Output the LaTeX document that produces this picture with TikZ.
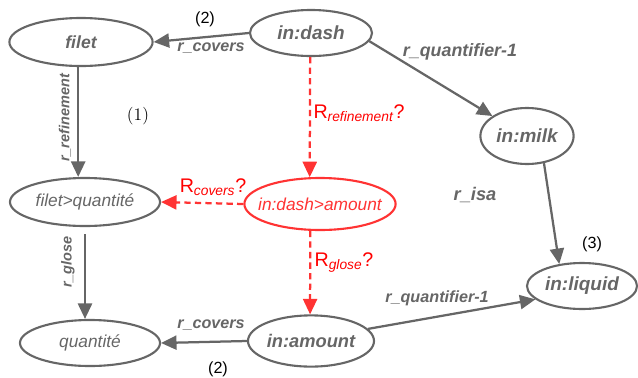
\documentclass[tikz,border=0pt]{standalone}
\usepackage{fontspec}
\setsansfont{Liberation Sans}
\usepackage{tikz}
\usetikzlibrary{shapes.geometric,arrows.meta}
\definecolor{edgegray}{HTML}{666666}
\definecolor{qred}{HTML}{FF3333}

\begin{document}
\begin{tikzpicture}[x=0.025cm, y=-0.025cm]
	\tikzstyle{every node} = [font=\sffamily\itshape, text=edgegray]
	\tikzstyle{term} = [ellipse, draw=edgegray, line width=1.5pt, inner sep=0pt]
	\tikzstyle{big} = [term, font=\sffamily\bfseries\itshape\fontsize{13.5}{16}\selectfont]
	\tikzstyle{small} = [term, font=\sffamily\itshape\fontsize{12.3}{15}\selectfont]
	\tikzstyle{guess} = [small, draw=qred, text=qred, inner xsep=-6pt]
	\tikzstyle{rel} = [draw=edgegray, line width=1.6pt, -{Triangle[length=11pt, width=10pt]}]
	\tikzstyle{qrel} = [rel, draw=qred, dashed, dash pattern=on 4.5pt off 3pt, -{Triangle[length=11pt, width=10pt, fill=qred]}, color=qred]
	\tikzstyle{lbl} = [font=\sffamily\bfseries\itshape\fontsize{11.5}{14}\selectfont]
	\tikzstyle{side} = [lbl, font=\sffamily\bfseries\itshape\fontsize{10.3}{12}\selectfont, rotate=90]
	\tikzstyle{rlbl} = [text=red, font=\sffamily\fontsize{14}{16}\selectfont]
	\tikzstyle{num} = [text=black, font=\sffamily\fontsize{11.5}{13}\selectfont]
	\useasboundingbox (0,0) rectangle (638,377);
	% terms
	\node [big, font=\sffamily\bfseries\itshape\fontsize{12.5}{15}\selectfont, minimum width=3.58cm, minimum height=1.2cm] (filet) at (81,42) {filet};
	\node [big, minimum width=3.05cm, minimum height=1.15cm] (dash) at (311,33) {in:dash};
	\node [big, minimum width=2.33cm, minimum height=1.4cm] (milk) at (527,136) {in:milk};
	\node [small, minimum width=3.75cm, minimum height=1.2cm] (fq) at (85,202) {filet>quantité};
	\node [guess, minimum width=3.78cm, minimum height=1.3cm] (dam) at (320,204) {in:dash>amount};
	\node [big, minimum width=2.75cm, minimum height=1.15cm] (liquid) at (582,286) {in:liquid};
	\node [small, minimum width=3.5cm, minimum height=1.15cm] (quant) at (90,343) {quantité};
	\node [big, font=\sffamily\bfseries\itshape\fontsize{13}{15}\selectfont, minimum width=3.15cm, minimum height=1.28cm] (amount) at (311,341) {in:amount};
	% relations
	\draw [rel] (dash.west) -- (filet.east);
	\draw [rel] (dash.-8) -- (milk.150);
	\draw [rel] ([xshift=-2pt]filet.south) -- ([xshift=-2pt]filet.south |- fq.north);
	\draw [rel, shorten <=5pt] (fq.south) -- (fq.south |- quant.north);
	\draw [rel] (milk.-58) -- (liquid.136);
	\draw [rel] (amount.12) -- (liquid.196);
	\draw [rel] (amount.west) -- (quant.east);
	\draw [qrel] (dash.-92) -- (dam.111);
	\draw [qrel] (dam.west) -- (fq.east);
	\draw [qrel] (dam.250) -- (amount.92);
	% labels
	\node [lbl] (l1) at (211,48) {r\_covers};
	\node [lbl, font=\sffamily\bfseries\itshape\fontsize{12.7}{15}\selectfont] (l2) at (460,52) {r\_quantifier-1};
	\node [side] (l3) at (65,118) {r\_refinement};
	\node [side] (l4) at (68,262) {r\_glose};
	\node [lbl, font=\sffamily\bfseries\itshape\fontsize{13}{15}\selectfont] (l5) at (475,195) {r\_isa};
	\node [lbl] (l6) at (437,298) {r\_quantifier-1};
	\node [lbl] (l7) at (211,325) {r\_covers};
	\node [rlbl] (r1) at (359,113) {R\textsubscript{\itshape refinement}?};
	\node [rlbl] (r2) at (213,187) {R\textsubscript{\itshape covers}?};
	\node [rlbl] (r3) at (344,263) {R\textsubscript{\itshape glose}?};
	\node [num] (n1) at (205,19) {(2)};
	\node [num, font=\rmfamily\fontsize{12.5}{14}\selectfont] (n2) at (138,116) {(1)};
	\node [num] (n3) at (592,244) {(3)};
	\node [num] (n4) at (218,369) {(2)};
\end{tikzpicture}
\end{document}
